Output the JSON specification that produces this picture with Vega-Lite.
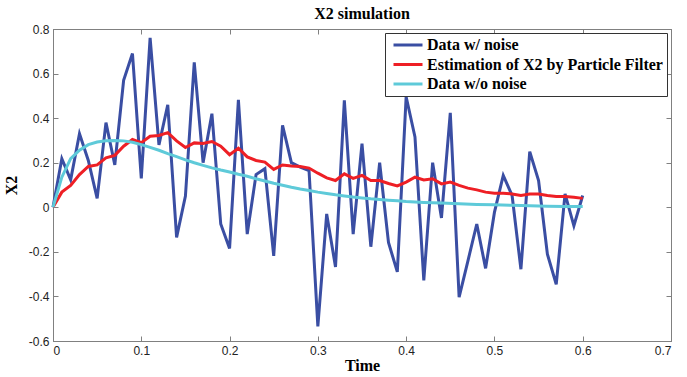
{
  "$schema": "https://vega.github.io/schema/vega-lite/v6.json",
  "width": 618,
  "height": 312,
  "autosize": {"type": "none"},
  "padding": {"left": 53, "top": 29, "right": 16, "bottom": 36},
  "background": "white",
  "title": {"text": "X2 simulation", "font": "Liberation Serif, Times New Roman, serif", "fontSize": 16, "fontWeight": "bold", "color": "black", "offset": 1},
  "config": {
    "view": {"stroke": "#808080"},
    "axis": {
      "grid": false,
      "domainColor": "#808080",
      "tickColor": "#808080",
      "tickSize": -5,
      "labelFont": "Liberation Sans",
      "labelFontSize": 12,
      "labelColor": "#222222",
      "labelPadding": 9,
      "titleFont": "Liberation Serif, Times New Roman, serif",
      "titleFontSize": 16,
      "titleFontWeight": "bold",
      "titleColor": "black"
    }
  },
  "data": {"values": [
    {"t":0,"v":0,"s":"Data w/ noise"},{"t":0.01,"v":0.218,"s":"Data w/ noise"},{"t":0.02,"v":0.123,"s":"Data w/ noise"},{"t":0.03,"v":0.33,"s":"Data w/ noise"},{"t":0.04,"v":0.21,"s":"Data w/ noise"},{"t":0.05,"v":0.04,"s":"Data w/ noise"},{"t":0.06,"v":0.38,"s":"Data w/ noise"},{"t":0.07,"v":0.19,"s":"Data w/ noise"},{"t":0.08,"v":0.57,"s":"Data w/ noise"},{"t":0.09,"v":0.69,"s":"Data w/ noise"},{"t":0.10,"v":0.13,"s":"Data w/ noise"},{"t":0.11,"v":0.76,"s":"Data w/ noise"},{"t":0.12,"v":0.28,"s":"Data w/ noise"},{"t":0.13,"v":0.46,"s":"Data w/ noise"},{"t":0.14,"v":-0.135,"s":"Data w/ noise"},{"t":0.15,"v":0.05,"s":"Data w/ noise"},{"t":0.16,"v":0.65,"s":"Data w/ noise"},{"t":0.17,"v":0.2,"s":"Data w/ noise"},{"t":0.18,"v":0.42,"s":"Data w/ noise"},{"t":0.19,"v":-0.075,"s":"Data w/ noise"},{"t":0.20,"v":-0.185,"s":"Data w/ noise"},{"t":0.21,"v":0.482,"s":"Data w/ noise"},{"t":0.22,"v":-0.12,"s":"Data w/ noise"},{"t":0.23,"v":0.147,"s":"Data w/ noise"},{"t":0.24,"v":0.173,"s":"Data w/ noise"},{"t":0.25,"v":-0.218,"s":"Data w/ noise"},{"t":0.26,"v":0.368,"s":"Data w/ noise"},{"t":0.27,"v":0.2,"s":"Data w/ noise"},{"t":0.28,"v":0.18,"s":"Data w/ noise"},{"t":0.29,"v":0.165,"s":"Data w/ noise"},{"t":0.30,"v":-0.534,"s":"Data w/ noise"},{"t":0.31,"v":-0.03,"s":"Data w/ noise"},{"t":0.32,"v":-0.268,"s":"Data w/ noise"},{"t":0.33,"v":0.48,"s":"Data w/ noise"},{"t":0.34,"v":-0.12,"s":"Data w/ noise"},{"t":0.35,"v":0.286,"s":"Data w/ noise"},{"t":0.36,"v":-0.177,"s":"Data w/ noise"},{"t":0.37,"v":0.2,"s":"Data w/ noise"},{"t":0.38,"v":-0.158,"s":"Data w/ noise"},{"t":0.39,"v":-0.29,"s":"Data w/ noise"},{"t":0.40,"v":0.496,"s":"Data w/ noise"},{"t":0.41,"v":0.316,"s":"Data w/ noise"},{"t":0.42,"v":-0.328,"s":"Data w/ noise"},{"t":0.43,"v":0.2,"s":"Data w/ noise"},{"t":0.44,"v":-0.048,"s":"Data w/ noise"},{"t":0.45,"v":0.424,"s":"Data w/ noise"},{"t":0.46,"v":-0.403,"s":"Data w/ noise"},{"t":0.47,"v":-0.24,"s":"Data w/ noise"},{"t":0.48,"v":-0.075,"s":"Data w/ noise"},{"t":0.49,"v":-0.274,"s":"Data w/ noise"},{"t":0.50,"v":-0.023,"s":"Data w/ noise"},{"t":0.51,"v":0.143,"s":"Data w/ noise"},{"t":0.52,"v":0.053,"s":"Data w/ noise"},{"t":0.53,"v":-0.278,"s":"Data w/ noise"},{"t":0.54,"v":0.25,"s":"Data w/ noise"},{"t":0.55,"v":0.12,"s":"Data w/ noise"},{"t":0.56,"v":-0.21,"s":"Data w/ noise"},{"t":0.57,"v":-0.346,"s":"Data w/ noise"},{"t":0.58,"v":0.06,"s":"Data w/ noise"},{"t":0.59,"v":-0.083,"s":"Data w/ noise"},{"t":0.60,"v":0.053,"s":"Data w/ noise"},
    {"t":0,"v":0,"s":"Estimation of X2 by Particle Filter"},{"t":0.01,"v":0.068,"s":"Estimation of X2 by Particle Filter"},{"t":0.02,"v":0.098,"s":"Estimation of X2 by Particle Filter"},{"t":0.03,"v":0.147,"s":"Estimation of X2 by Particle Filter"},{"t":0.04,"v":0.183,"s":"Estimation of X2 by Particle Filter"},{"t":0.05,"v":0.19,"s":"Estimation of X2 by Particle Filter"},{"t":0.06,"v":0.222,"s":"Estimation of X2 by Particle Filter"},{"t":0.07,"v":0.233,"s":"Estimation of X2 by Particle Filter"},{"t":0.08,"v":0.274,"s":"Estimation of X2 by Particle Filter"},{"t":0.09,"v":0.304,"s":"Estimation of X2 by Particle Filter"},{"t":0.10,"v":0.29,"s":"Estimation of X2 by Particle Filter"},{"t":0.11,"v":0.319,"s":"Estimation of X2 by Particle Filter"},{"t":0.12,"v":0.322,"s":"Estimation of X2 by Particle Filter"},{"t":0.13,"v":0.335,"s":"Estimation of X2 by Particle Filter"},{"t":0.14,"v":0.298,"s":"Estimation of X2 by Particle Filter"},{"t":0.15,"v":0.268,"s":"Estimation of X2 by Particle Filter"},{"t":0.16,"v":0.289,"s":"Estimation of X2 by Particle Filter"},{"t":0.17,"v":0.286,"s":"Estimation of X2 by Particle Filter"},{"t":0.18,"v":0.295,"s":"Estimation of X2 by Particle Filter"},{"t":0.19,"v":0.274,"s":"Estimation of X2 by Particle Filter"},{"t":0.20,"v":0.236,"s":"Estimation of X2 by Particle Filter"},{"t":0.21,"v":0.265,"s":"Estimation of X2 by Particle Filter"},{"t":0.22,"v":0.226,"s":"Estimation of X2 by Particle Filter"},{"t":0.23,"v":0.21,"s":"Estimation of X2 by Particle Filter"},{"t":0.24,"v":0.203,"s":"Estimation of X2 by Particle Filter"},{"t":0.25,"v":0.17,"s":"Estimation of X2 by Particle Filter"},{"t":0.26,"v":0.19,"s":"Estimation of X2 by Particle Filter"},{"t":0.27,"v":0.185,"s":"Estimation of X2 by Particle Filter"},{"t":0.28,"v":0.183,"s":"Estimation of X2 by Particle Filter"},{"t":0.29,"v":0.176,"s":"Estimation of X2 by Particle Filter"},{"t":0.30,"v":0.153,"s":"Estimation of X2 by Particle Filter"},{"t":0.31,"v":0.132,"s":"Estimation of X2 by Particle Filter"},{"t":0.32,"v":0.12,"s":"Estimation of X2 by Particle Filter"},{"t":0.33,"v":0.15,"s":"Estimation of X2 by Particle Filter"},{"t":0.34,"v":0.13,"s":"Estimation of X2 by Particle Filter"},{"t":0.35,"v":0.143,"s":"Estimation of X2 by Particle Filter"},{"t":0.36,"v":0.12,"s":"Estimation of X2 by Particle Filter"},{"t":0.37,"v":0.12,"s":"Estimation of X2 by Particle Filter"},{"t":0.38,"v":0.107,"s":"Estimation of X2 by Particle Filter"},{"t":0.39,"v":0.096,"s":"Estimation of X2 by Particle Filter"},{"t":0.40,"v":0.113,"s":"Estimation of X2 by Particle Filter"},{"t":0.41,"v":0.135,"s":"Estimation of X2 by Particle Filter"},{"t":0.42,"v":0.123,"s":"Estimation of X2 by Particle Filter"},{"t":0.43,"v":0.128,"s":"Estimation of X2 by Particle Filter"},{"t":0.44,"v":0.105,"s":"Estimation of X2 by Particle Filter"},{"t":0.45,"v":0.113,"s":"Estimation of X2 by Particle Filter"},{"t":0.46,"v":0.098,"s":"Estimation of X2 by Particle Filter"},{"t":0.47,"v":0.086,"s":"Estimation of X2 by Particle Filter"},{"t":0.48,"v":0.078,"s":"Estimation of X2 by Particle Filter"},{"t":0.49,"v":0.068,"s":"Estimation of X2 by Particle Filter"},{"t":0.50,"v":0.063,"s":"Estimation of X2 by Particle Filter"},{"t":0.51,"v":0.063,"s":"Estimation of X2 by Particle Filter"},{"t":0.52,"v":0.06,"s":"Estimation of X2 by Particle Filter"},{"t":0.53,"v":0.053,"s":"Estimation of X2 by Particle Filter"},{"t":0.54,"v":0.06,"s":"Estimation of X2 by Particle Filter"},{"t":0.55,"v":0.06,"s":"Estimation of X2 by Particle Filter"},{"t":0.56,"v":0.053,"s":"Estimation of X2 by Particle Filter"},{"t":0.57,"v":0.048,"s":"Estimation of X2 by Particle Filter"},{"t":0.58,"v":0.048,"s":"Estimation of X2 by Particle Filter"},{"t":0.59,"v":0.045,"s":"Estimation of X2 by Particle Filter"},{"t":0.60,"v":0.04,"s":"Estimation of X2 by Particle Filter"},
    {"t":0,"v":0,"s":"Data w/o noise"},{"t":0.01,"v":0.135,"s":"Data w/o noise"},{"t":0.02,"v":0.218,"s":"Data w/o noise"},{"t":0.03,"v":0.256,"s":"Data w/o noise"},{"t":0.04,"v":0.281,"s":"Data w/o noise"},{"t":0.05,"v":0.293,"s":"Data w/o noise"},{"t":0.06,"v":0.299,"s":"Data w/o noise"},{"t":0.07,"v":0.3,"s":"Data w/o noise"},{"t":0.08,"v":0.298,"s":"Data w/o noise"},{"t":0.09,"v":0.292,"s":"Data w/o noise"},{"t":0.10,"v":0.281,"s":"Data w/o noise"},{"t":0.11,"v":0.269,"s":"Data w/o noise"},{"t":0.12,"v":0.256,"s":"Data w/o noise"},{"t":0.13,"v":0.241,"s":"Data w/o noise"},{"t":0.14,"v":0.227,"s":"Data w/o noise"},{"t":0.15,"v":0.213,"s":"Data w/o noise"},{"t":0.16,"v":0.2,"s":"Data w/o noise"},{"t":0.17,"v":0.188,"s":"Data w/o noise"},{"t":0.18,"v":0.177,"s":"Data w/o noise"},{"t":0.19,"v":0.167,"s":"Data w/o noise"},{"t":0.20,"v":0.158,"s":"Data w/o noise"},{"t":0.21,"v":0.148,"s":"Data w/o noise"},{"t":0.22,"v":0.139,"s":"Data w/o noise"},{"t":0.23,"v":0.128,"s":"Data w/o noise"},{"t":0.24,"v":0.118,"s":"Data w/o noise"},{"t":0.25,"v":0.108,"s":"Data w/o noise"},{"t":0.26,"v":0.099,"s":"Data w/o noise"},{"t":0.27,"v":0.09,"s":"Data w/o noise"},{"t":0.28,"v":0.082,"s":"Data w/o noise"},{"t":0.29,"v":0.075,"s":"Data w/o noise"},{"t":0.30,"v":0.068,"s":"Data w/o noise"},{"t":0.31,"v":0.062,"s":"Data w/o noise"},{"t":0.32,"v":0.056,"s":"Data w/o noise"},{"t":0.33,"v":0.051,"s":"Data w/o noise"},{"t":0.34,"v":0.046,"s":"Data w/o noise"},{"t":0.35,"v":0.042,"s":"Data w/o noise"},{"t":0.36,"v":0.038,"s":"Data w/o noise"},{"t":0.37,"v":0.035,"s":"Data w/o noise"},{"t":0.38,"v":0.032,"s":"Data w/o noise"},{"t":0.39,"v":0.029,"s":"Data w/o noise"},{"t":0.40,"v":0.026,"s":"Data w/o noise"},{"t":0.42,"v":0.022,"s":"Data w/o noise"},{"t":0.44,"v":0.019,"s":"Data w/o noise"},{"t":0.46,"v":0.016,"s":"Data w/o noise"},{"t":0.48,"v":0.013,"s":"Data w/o noise"},{"t":0.50,"v":0.011,"s":"Data w/o noise"},{"t":0.52,"v":0.009,"s":"Data w/o noise"},{"t":0.54,"v":0.007,"s":"Data w/o noise"},{"t":0.56,"v":0.005,"s":"Data w/o noise"},{"t":0.58,"v":0.004,"s":"Data w/o noise"},{"t":0.60,"v":0.003,"s":"Data w/o noise"}
  ]},
  "resolve": {"axis": {"x": "independent", "y": "independent"}},
  "layer": [
    {
      "mark": {"type": "line", "strokeWidth": 3},
      "encoding": {
        "x": {"field": "t", "type": "quantitative",
          "scale": {"domain": [0, 0.7], "nice": false, "zero": false},
          "axis": {"orient": "bottom", "title": "Time", "values": [0, 0.1, 0.2, 0.3, 0.4, 0.5, 0.6, 0.7], "labelExpr": "'' + datum.value", "titlePadding": 1}},
        "y": {"field": "v", "type": "quantitative",
          "scale": {"domain": [-0.6, 0.8], "nice": false, "zero": false},
          "axis": {"orient": "left", "title": "X2", "values": [-0.6, -0.4, -0.2, 0, 0.2, 0.4, 0.6, 0.8], "labelExpr": "'' + datum.value", "titlePadding": 9}},
        "color": {"field": "s", "type": "nominal",
          "scale": {"domain": ["Data w/ noise", "Estimation of X2 by Particle Filter", "Data w/o noise"], "range": ["#3a4ea3", "#ee1f25", "#5ecad9"]},
          "legend": {"title": null, "orient": "top-right", "offset": 4, "strokeColor": "#333333", "fillColor": "white", "padding": 4, "symbolOffset": 3, "clipHeight": 16, "symbolType": "stroke", "symbolStrokeWidth": 3, "symbolSize": 841, "labelFont": "Liberation Serif, Times New Roman, serif", "labelFontWeight": "bold", "labelFontSize": 16, "labelColor": "black", "labelOffset": 3, "rowPadding": 3.5, "labelLimit": 400}}
      }
    },
    {
      "mark": {"type": "line", "opacity": 0},
      "encoding": {
        "x": {"field": "t", "type": "quantitative", "axis": {"orient": "top", "title": null, "labels": false, "values": [0, 0.1, 0.2, 0.3, 0.4, 0.5, 0.6, 0.7]}},
        "y": {"field": "v", "type": "quantitative", "axis": {"orient": "right", "title": null, "labels": false, "values": [-0.6, -0.4, -0.2, 0, 0.2, 0.4, 0.6, 0.8]}},
        "detail": {"field": "s"}
      }
    }
  ]
}
